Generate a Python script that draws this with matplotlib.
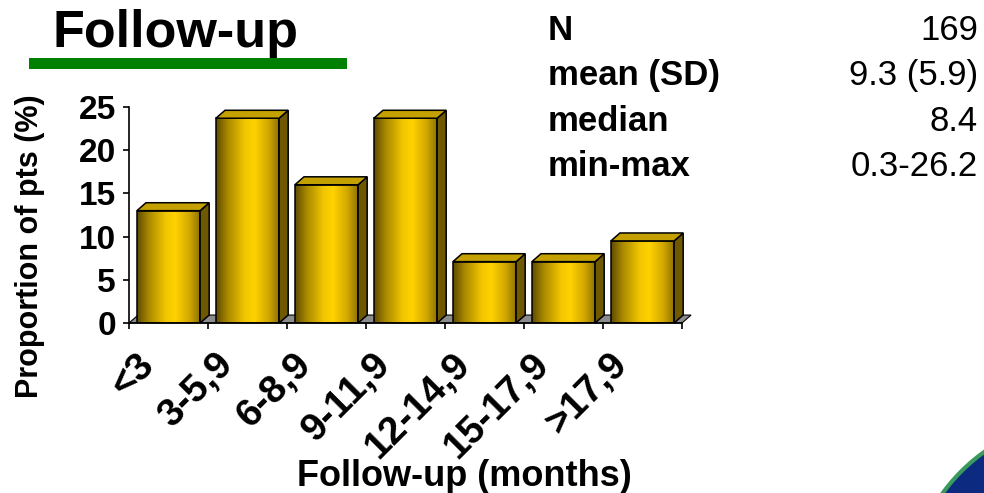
import numpy as np
import matplotlib.pyplot as plt
from matplotlib.patches import Polygon, Rectangle, Circle
from matplotlib.colors import LinearSegmentedColormap
from matplotlib.transforms import ScaledTranslation, IdentityTransform

plt.rcParams['font.family'] = ['Liberation Sans', 'DejaVu Sans']

categories = ['<3', '3-5,9', '6-8,9', '9-11,9', '12-14,9', '15-17,9', '>17,9']
proportions = [13.0, 23.7, 16.0, 23.7, 7.1, 7.1, 9.5]
yticks = [0, 5, 10, 15, 20, 25]
stat_names = ['N', 'mean (SD)', 'median', 'min-max']
stat_values = ['169', '9.3 (5.9)', '8.4', '0.3-26.2']

W, H = 984, 493
fig = plt.figure(figsize=(W / 100, H / 100), dpi=100)
fig.patch.set_facecolor('white')

ax = fig.add_axes([129 / W, 170 / H, 553 / W, 216 / H])
ax.set_facecolor('none')

# 3d look: depth offsets in data units, gradient for the front faces
dx, dy = 0.115, 0.92
bar_w = 0.8
gold = LinearSegmentedColormap.from_list('gold', [
    (0.0, '#5e4b00'), (0.18, '#a88800'), (0.45, '#f2c600'),
    (0.6, '#ffd200'), (0.82, '#d2a800'), (1.0, '#8a6e00')])
grad = np.linspace(0, 1, 256).reshape(1, -1)

n = len(categories)
x = np.arange(n) + 0.5

floor = Polygon([(0, 0), (n, 0), (n + dx, dy), (dx, dy)], closed=True,
                fc='#8c8c8c', ec='black', lw=0.8, zorder=1, clip_on=False)
ax.add_patch(floor)

bars = ax.bar(x, proportions, width=bar_w, color='none', edgecolor='black',
              linewidth=1.1, zorder=4)
for rect, h in zip(bars, proportions):
    x0 = rect.get_x()
    x1 = x0 + rect.get_width()
    im = ax.imshow(grad, extent=[x0, x1, 0, h], aspect='auto', cmap=gold,
                   zorder=3, interpolation='bilinear')
    im.set_clip_path(rect)
    top = Polygon([(x0, h), (x1, h), (x1 + dx, h + dy), (x0 + dx, h + dy)],
                  closed=True, fc='#c4a000', ec='black', lw=1.1, zorder=4, clip_on=False)
    side = Polygon([(x1, 0), (x1 + dx, dy), (x1 + dx, h + dy), (x1, h)],
                   closed=True, fc='#6e5800', ec='black', lw=1.1, zorder=4, clip_on=False)
    ax.add_patch(side)
    ax.add_patch(top)

ax.set_xlim(0, n)
ax.set_ylim(0, 25)

for s in ['top', 'right']:
    ax.spines[s].set_visible(False)
for s in ['left', 'bottom']:
    ax.spines[s].set_linewidth(1.2)
    ax.spines[s].set_zorder(5)

ax.set_yticks(yticks)
ax.set_yticklabels([str(t) for t in yticks], fontsize=24, fontweight='bold')
ax.tick_params(axis='y', direction='out', length=4.5, width=1.2, pad=5)

ax.set_xticks(np.arange(n + 1))
ax.set_xticklabels([])
ax.tick_params(axis='x', which='major', direction='out', length=4.5, width=1.2)
ax.set_xticks(x, minor=True)
ax.set_xticklabels(categories, minor=True, rotation=45, ha='right', va='top',
                   rotation_mode='anchor', fontsize=28, fontweight='bold')
ax.tick_params(axis='x', which='minor', length=0, pad=17)
shift = ScaledTranslation(-0.33, 0, fig.dpi_scale_trans)
for lab in ax.get_xticklabels(minor=True):
    lab.set_transform(lab.get_transform() + shift)

fig.text(464 / W, 1 - 486 / H, 'Follow-up (months)', ha='center', va='baseline',
         fontsize=26, fontweight='bold')
fig.text(30 / W, 1 - 246 / H, 'Proportion of pts (%)', ha='center', va='center',
         rotation=90, fontsize=22, fontweight='bold')

# slide title with green underline
fig.text(52 / W, 1 - 47 / H, 'Follow-up', ha='left', va='baseline',
         fontsize=37.5, fontweight='bold')
fig.add_artist(Rectangle((29 / W, 1 - 69 / H), 318 / W, 11 / H,
                         transform=fig.transFigure, fc='#008000', ec='none'))

# summary statistics
baselines = [40, 85, 131, 176]
for name, val, yb in zip(stat_names, stat_values, baselines):
    fig.text(548 / W, 1 - yb / H, name, ha='left', va='baseline',
             fontsize=25, fontweight='bold')
    fig.text(978 / W, 1 - yb / H, val, ha='right', va='baseline', fontsize=25)

# slide corner decoration
fig.add_artist(Circle((1090, -107), 182, transform=IdentityTransform(),
                      fc='#0b2a80', ec='#3a9a5e', lw=3))

fig.savefig('out.png', dpi=100)
